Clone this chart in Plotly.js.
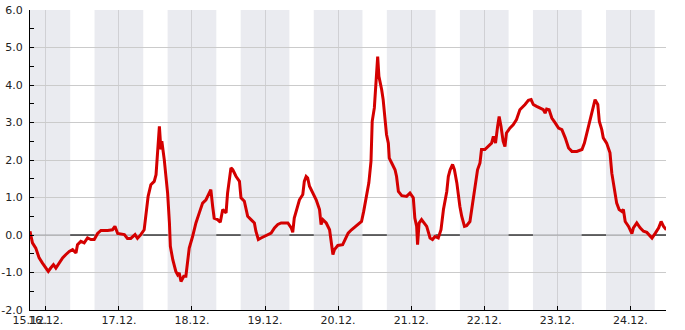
<!DOCTYPE html>
<html><head><meta charset="utf-8">
<script src="https://cdn.plot.ly/plotly-3.0.1.min.js"></script>
<style>html,body{margin:0;padding:0;background:#fff}#chart{width:685px;height:330px}</style>
</head><body><div id="chart"></div>
<script>
// hours since 16.12. 00:00
const hours = [-5.2,-4.4,-3.3,-2.2,-1.1,0,0.8,1.6,2.5,3.3,4.4,5.5,6.6,7.7,8.8,9.9,10.4,11.5,12.6,13.7,14.8,15.9,17.0,18.1,20.3,21.9,22.7,23.6,25.8,26.8,27.9,29.3,30.1,31.2,32.3,32.9,33.6,34.5,35.6,36.2,36.7,37.3,37.8,38.1,38.9,39.5,40.0,40.6,40.9,41.7,42.7,43.3,43.8,44.4,45.3,46.0,46.6,47.1,48.2,49.3,50.4,51.5,52.6,53.7,54.2,54.8,55.3,56.4,57.3,58.1,59.2,59.7,60.8,61.4,61.9,62.5,63.6,64.1,65.2,66.3,67.4,68.5,69.0,69.8,70.7,71.8,72.9,74.0,75.1,76.2,77.3,79.5,80.6,81.1,81.6,82.7,83.3,84.4,84.9,85.5,86.0,86.6,87.7,88.8,89.9,90.4,91.0,92.1,93.2,93.7,94.3,94.8,95.9,97.5,98.2,99.3,100.4,102.0,103.7,104.4,105.3,106.1,106.8,107.2,107.9,108.4,109.0,109.4,109.8,110.3,110.8,111.4,111.9,112.5,112.8,113.6,114.7,115.2,115.8,116.9,118.5,119.6,120.7,121.2,121.8,122.1,122.6,123.4,124.3,125.1,126.2,127.0,127.8,128.9,129.8,130.6,131.7,132.2,132.8,133.6,134.2,135.0,136.0,136.6,137.5,138.2,139.3,139.9,140.4,141.0,141.8,142.6,143.1,144.2,145.3,146.4,147.0,147.7,148.4,148.9,149.5,150.2,150.8,151.3,152.4,153.5,154.6,155.7,157.4,158.5,159.4,160.1,161.2,162.3,163.4,164.0,164.5,165.3,166.2,167.3,168.4,169.5,170.0,170.6,171.7,172.8,174.4,176.1,176.9,177.7,178.8,179.5,180.4,181.3,181.8,182.6,183.1,184.2,185.3,185.9,186.8,187.5,188.3,189.2,189.7,190.3,191.4,192.5,193.0,194.1,195.2,196.3,197.4,198.2,199.1,200.2,201.3,202.1,202.9,203.8];
const values = [0.10,-0.21,-0.35,-0.61,-0.75,-0.88,-0.97,-0.88,-0.79,-0.88,-0.75,-0.61,-0.52,-0.44,-0.39,-0.48,-0.26,-0.17,-0.21,-0.08,-0.12,-0.12,0.04,0.12,0.12,0.14,0.23,0.04,0.01,-0.09,-0.09,0.01,-0.09,0.01,0.14,0.59,1.03,1.34,1.43,1.61,2.28,2.90,2.28,2.50,2.01,1.48,1.12,0.32,-0.30,-0.66,-0.97,-1.06,-1.01,-1.24,-1.10,-1.10,-0.66,-0.35,-0.04,0.32,0.59,0.85,0.94,1.16,1.21,0.76,0.45,0.41,0.34,0.68,0.59,1.12,1.79,1.74,1.65,1.56,1.43,0.99,0.90,0.50,0.41,0.32,0.10,-0.12,-0.08,-0.04,0.01,0.05,0.19,0.28,0.32,0.32,0.19,0.07,0.45,0.76,0.94,1.08,1.43,1.56,1.52,1.30,1.12,0.94,0.68,0.28,0.41,0.32,0.14,-0.12,-0.52,-0.39,-0.28,-0.26,-0.12,0.05,0.14,0.25,0.36,0.63,1.03,1.39,1.96,3.03,3.39,3.96,4.76,4.23,4.10,3.88,3.61,2.99,2.68,2.45,2.05,1.92,1.74,1.56,1.16,1.05,1.03,1.12,0.99,0.45,0.23,-0.26,0.32,0.41,0.32,0.23,-0.08,-0.12,-0.04,-0.08,0.14,0.68,1.16,1.56,1.74,1.88,1.74,1.39,0.76,0.50,0.23,0.25,0.36,0.68,1.03,1.39,1.74,1.92,2.28,2.28,2.36,2.45,2.63,2.45,2.90,3.16,2.90,2.50,2.36,2.72,2.85,2.94,3.08,3.34,3.48,3.59,3.61,3.48,3.43,3.39,3.34,3.25,3.36,3.34,3.12,2.99,2.85,2.81,2.68,2.59,2.32,2.23,2.23,2.28,2.45,2.72,3.08,3.39,3.61,3.48,3.03,2.81,2.59,2.45,2.19,1.65,1.21,0.85,0.68,0.63,0.68,0.36,0.23,0.04,0.19,0.32,0.19,0.10,0.07,0.01,-0.08,0.05,0.19,0.36,0.23,0.14];

const startHour = -5.2, endHour = 203.7;
const startLabel = '15.12.';
const dayTickHours = [0,24,48,72,96,120,144,168,192];
const dayTickLabels = ['16.12.','17.12.','18.12.','19.12.','20.12.','21.12.','22.12.','23.12.','24.12.'];
const yTickVals = [-2,-1,0,1,2,3,4,5,6];
const yTickText = ['-2.0','-1.0','0.0','1.0','2.0','3.0','4.0','5.0','6.0'];
const nightStarts = [-8,16,40,64,88,112,136,160,184];
const nightEnds = [8,32,56,80,104,128,152,176,200];

const shapes = [];
for (let i = 0; i < nightStarts.length; i++) {
  shapes.push({type:'rect', xref:'x', yref:'paper', x0:nightStarts[i], x1:nightEnds[i], y0:0, y1:1,
    fillcolor:'#eaebf0', line:{width:0}, layer:'below'});
}
shapes.push({type:'line', xref:'x', yref:'y', x0:startHour, x1:endHour, y0:0, y1:0,
  line:{color:'#a2a3a8', width:1}, layer:'between'});
for (let i = 0; i < nightEnds.length; i++) {
  const x0 = nightEnds[i];
  const x1 = i + 1 < nightStarts.length ? nightStarts[i+1] : endHour + 10;
  shapes.push({type:'line', xref:'x', yref:'y', x0:x0, x1:x1, y0:0, y1:0,
    line:{color:'#000000', width:1}, layer:'between'});
}

const trace = {x: hours, y: values, type:'scatter', mode:'lines',
  line:{color:'#d40000', width:3}, hoverinfo:'skip'};

const layout = {
  width:685, height:330,
  margin:{l:30, r:19, t:10, b:20, pad:0},
  paper_bgcolor:'#ffffff', plot_bgcolor:'#ffffff',
  showlegend:false,
  font:{family:'DejaVu Sans', size:11, color:'#222222'},
  xaxis:{range:[startHour, endHour], tickmode:'array',
    tickvals:[startHour].concat(dayTickHours), ticktext:[startLabel].concat(dayTickLabels),
    tickangle:0, automargin:false,
    showgrid:true, gridcolor:'#d0d0d4', gridwidth:1, zeroline:false,
    showline:true, linecolor:'#000', linewidth:1,
    ticks:'inside', ticklen:4, tickcolor:'#000', tickwidth:1},
  yaxis:{range:[-2,6], tickmode:'array', tickvals:yTickVals, ticktext:yTickText,
    automargin:false,
    showgrid:true, gridcolor:'#cbcbcb', gridwidth:1, zeroline:false,
    showline:true, linecolor:'#000', linewidth:1,
    ticks:'inside', ticklen:4, tickcolor:'#000', tickwidth:1, ticklabelstandoff:4,
    minor:{ticks:'inside', ticklen:4, tickcolor:'#000', dtick:0.5, tick0:0, showgrid:false}},
  shapes: shapes
};
Plotly.newPlot('chart', [trace], layout, {staticPlot:true, displayModeBar:false});
</script></body></html>
